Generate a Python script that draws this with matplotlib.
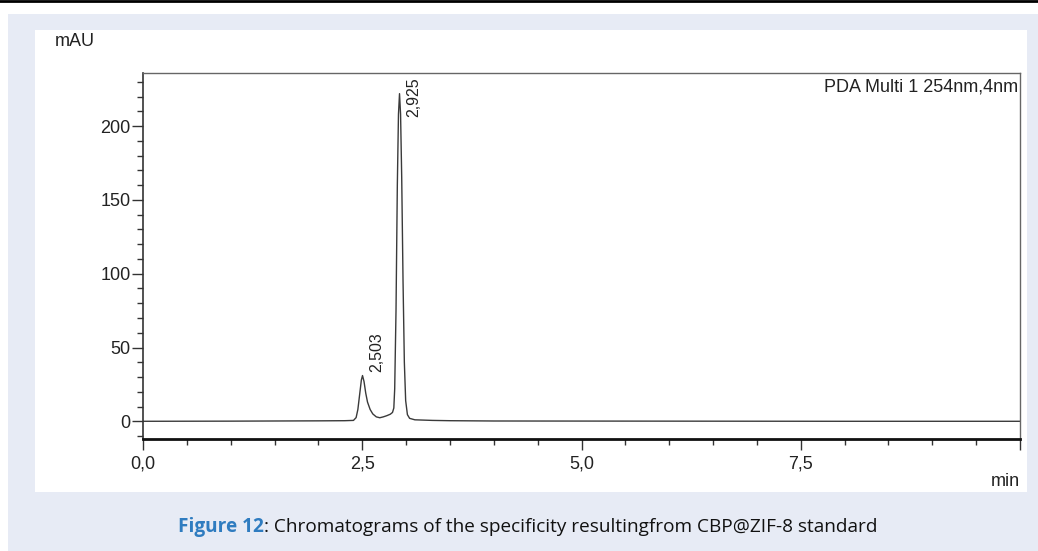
import matplotlib.pyplot as plt
from matplotlib.patches import Rectangle
from matplotlib.lines import Line2D
from matplotlib.ticker import MultipleLocator, FixedLocator

plt.rcParams['font.family'] = ['Liberation Sans', 'DejaVu Sans']

# PDA trace, 254 nm (time in min, absorbance in mAU)
time_min = [0.0, 1.0, 2.0, 2.30, 2.40, 2.43, 2.45, 2.47, 2.49, 2.503, 2.52, 2.54,
            2.56, 2.59, 2.62, 2.66, 2.70, 2.74, 2.78, 2.82, 2.845, 2.86, 2.87,
            2.885, 2.90, 2.913, 2.925, 2.937, 2.95, 2.965, 2.98, 2.995, 3.015,
            3.04, 3.10, 3.30, 3.50, 4.0, 6.0, 8.0, 10.0]
signal_mau = [0.0, 0.1, 0.3, 0.4, 0.6, 2.5, 8.0, 18.0, 28.0, 31.0, 27.0, 19.0,
              13.0, 8.0, 5.0, 3.0, 2.4, 3.0, 3.8, 4.8, 6.0, 9.0, 22.0,
              75.0, 160.0, 208.0, 222.0, 208.0, 165.0, 95.0, 40.0, 14.0, 4.5,
              2.0, 1.0, 0.6, 0.4, 0.2, 0.1, 0.0, 0.0]

peak_times = [2.503, 2.925]
peak_labels = ['2,503', '2,925']
label_heights = [33.5, 206.0]

x_ticks = [0.0, 2.5, 5.0, 7.5]
x_ticklabels = ['0,0', '2,5', '5,0', '7,5']
y_ticks = [0, 50, 100, 150, 200]

fig = plt.figure(figsize=(10.38, 5.51), dpi=100)
W, H = 1038, 551

# page background, white panel and top rule
fig.patches.append(Rectangle((8 / W, 0), 1 - 8 / W, 1 - 14 / H, transform=fig.transFigure,
                             facecolor='#e7ebf5', edgecolor='none', zorder=-3))
fig.patches.append(Rectangle((35 / W, 1 - 492 / H), (1027 - 35) / W, (492 - 30) / H,
                             transform=fig.transFigure, facecolor='white',
                             edgecolor='none', zorder=-2))
fig.lines.append(Line2D([0, 1], [1 - 1 / H, 1 - 1 / H], transform=fig.transFigure,
                        color='black', linewidth=2.0))

ax = fig.add_axes([143 / W, 1 - 439 / H, (1020 - 143) / W, (439 - 73) / H])
ax.plot(time_min, signal_mau, color='#3a3a3a', linewidth=1.0)

ax.set_xlim(0, 10)
ax.set_ylim(-12, 236)

ax.xaxis.set_major_locator(FixedLocator(x_ticks + [10.0]))
ax.set_xticklabels(x_ticklabels + [''])
ax.xaxis.set_minor_locator(MultipleLocator(0.5))
ax.yaxis.set_major_locator(FixedLocator(y_ticks))
ax.yaxis.set_minor_locator(MultipleLocator(10))

ax.tick_params(axis='both', which='major', direction='out', length=8, width=1.0,
               color='#333333', labelsize=13, labelcolor='#222222')
ax.tick_params(axis='both', which='minor', direction='out', length=4.5, width=1.0,
               color='#333333')
ax.tick_params(axis='x', which='major', pad=4)
ax.tick_params(axis='y', which='major', pad=1)

for side in ['top', 'right']:
    ax.spines[side].set_color('#666666')
    ax.spines[side].set_linewidth(1.0)
ax.spines['left'].set_color('#333333')
ax.spines['left'].set_linewidth(1.2)
ax.spines['bottom'].set_color('#111111')
ax.spines['bottom'].set_linewidth(2.0)

# retention time labels
for t, lab, h in zip(peak_times, peak_labels, label_heights):
    ax.annotate(lab, xy=(t, h), xytext=(10, 0), textcoords='offset points',
                rotation=90, ha='center', va='bottom', fontsize=11.5, color='#222222')

ax.text(0.998, 0.985, 'PDA Multi 1 254nm,4nm', transform=ax.transAxes,
        ha='right', va='top', fontsize=13, color='#222222')

fig.text(55 / W, 1 - 42 / H, 'mAU', ha='left', va='center', fontsize=13, color='#222222')
fig.text(1020 / W, 1 - 481 / H, 'min', ha='right', va='center', fontsize=13, color='#222222')

# caption
cap_font = ['Liberation Sans Narrow', 'Open Sans', 'DejaVu Sans']
t1 = fig.text(178 / W, 1 - 527 / H, 'Figure 12', ha='left', va='center', fontsize=13.7,
              fontweight='bold', color='#2f7cc0', family=cap_font)
fig.canvas.draw()
bb = t1.get_window_extent()
fig.text(bb.x1 / W, 1 - 527 / H, ': Chromatograms of the specificity resultingfrom CBP@ZIF-8 standard',
         ha='left', va='center', fontsize=13.7, color='#111111', family=cap_font)

fig.savefig('out.png', dpi=100)
